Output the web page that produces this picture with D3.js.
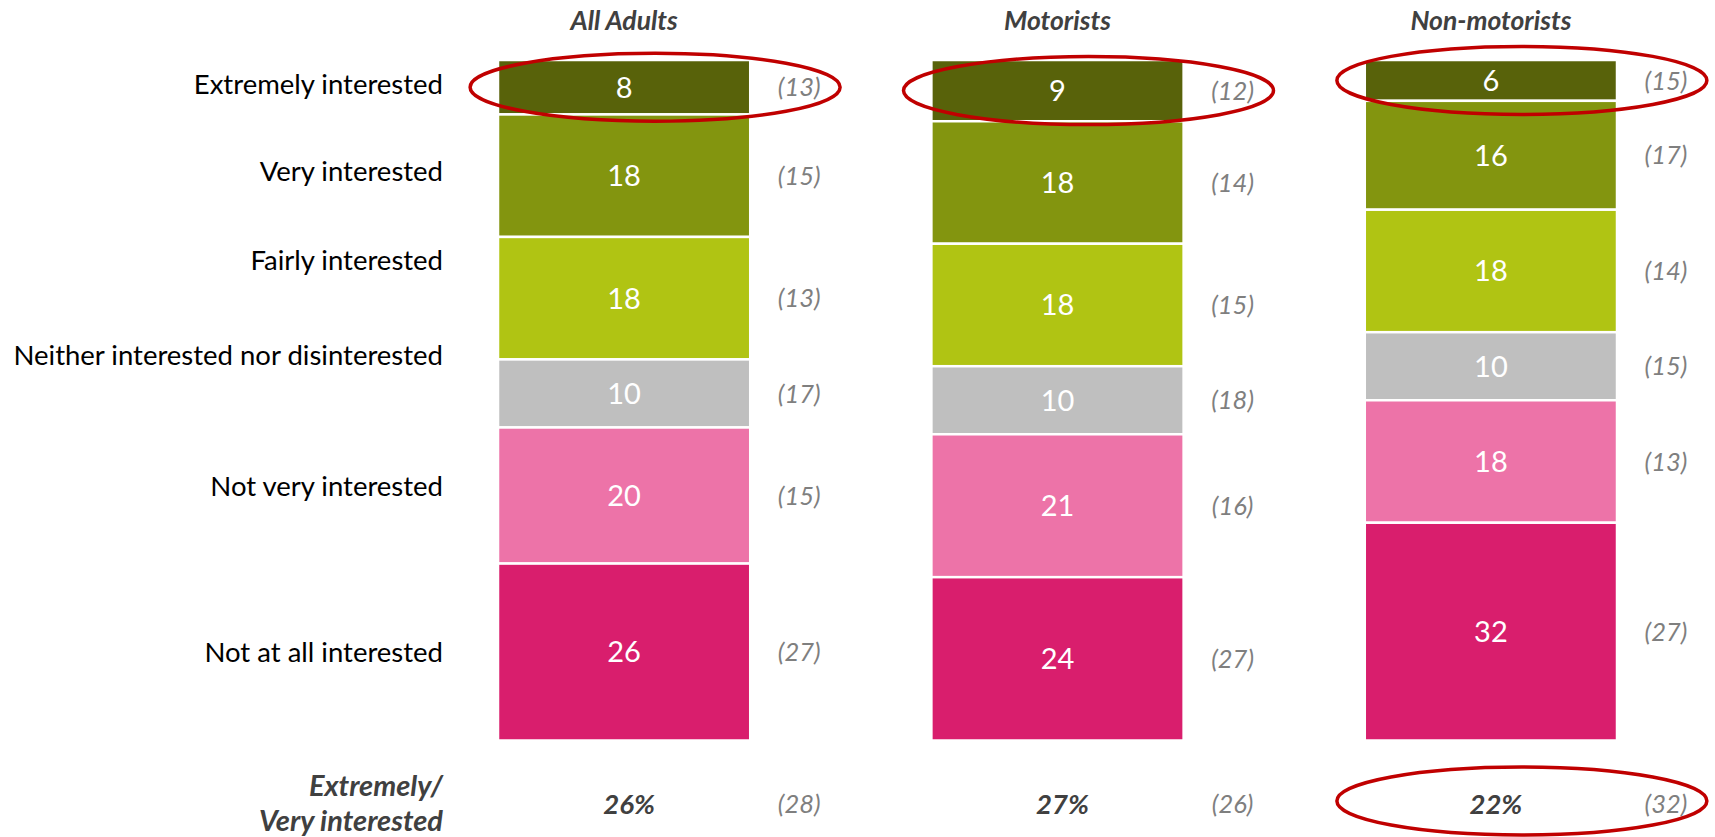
<!DOCTYPE html>
<html>
<head>
<meta charset="utf-8">
<script src="https://cdn.jsdelivr.net/npm/d3@7"></script>
<style>
  body { margin: 0; background: #fff; }
  svg text { font-family: Lato, "Open Sans", sans-serif; }
</style>
</head>
<body>
<div id="chart"></div>
<script>
// data
var categories = ['Extremely interested', 'Very interested', 'Fairly interested',
  'Neither interested nor disinterested', 'Not very interested', 'Not at all interested']
var groups = ['All Adults', 'Motorists', 'Non-motorists']
var allAdults = [8, 18, 18, 10, 20, 26]
var motorists = [9, 18, 18, 10, 21, 24]
var nonMotorists = [6, 16, 18, 10, 18, 32]
// previous wave, shown in brackets
var allAdultsPrev = [13, 15, 13, 17, 15, 27]
var motoristsPrev = [12, 14, 15, 18, 16, 27]
var nonMotoristsPrev = [15, 17, 14, 15, 13, 27]
var netLabel = ['Extremely/', 'Very interested']
var netValues = [26, 27, 22]
var netPrev = [28, 26, 32]
// which cells get the red ring
var ringTop = [true, true, true]
var ringNet = [false, false, true]

var colors = ['#58620a', '#83950f', '#b0c413', '#bfbfbf', '#ed73a8', '#d91e6d']
// label height for the left hand names, in value units
var labelAt = [3.6, 16.4, 29.4, 43.4, 62.7, 87.1]

var width = 1715, height = 837
var svg = d3.select('#chart').append('svg')
  .attr('width', width)
  .attr('height', height)

var x = d3.scaleBand()
  .domain(groups)
  .range([498, 1617])
  .paddingInner(0.418)
  .paddingOuter(0)

var y = d3.scaleLinear()
  .domain([0, 100])
  .range([60, 740.5])

var series = [allAdults, motorists, nonMotorists]
var seriesPrev = [allAdultsPrev, motoristsPrev, nonMotoristsPrev]

// stack each column
var cols = groups.map(function(g, gi) {
  var acc = 0
  return series[gi].map(function(v, i) {
    var seg = {group: g, gi: gi, i: i, v: v, prev: seriesPrev[gi][i], y0: acc, y1: acc + v}
    acc += v
    return seg
  })
})
var segs = d3.merge(cols)

// column titles
svg.selectAll('.title')
  .data(groups)
  .enter()
  .append('text')
  .attr('x', function(d) { return x(d) + x.bandwidth() / 2 })
  .attr('y', 20)
  .attr('dy', '0.36em')
  .attr('text-anchor', 'middle')
  .attr('fill', '#404040')
  .style('font-size', '26.5px')
  .style('font-weight', 'bold')
  .style('font-style', 'italic')
  .text(function(d) { return d })

// row names
svg.selectAll('.cat')
  .data(categories)
  .enter()
  .append('text')
  .attr('x', 443)
  .attr('y', function(d, i) { return y(labelAt[i]) })
  .attr('dy', '0.35em')
  .attr('text-anchor', 'end')
  .attr('fill', '#000')
  .style('font-size', '27.5px')
  .text(function(d) { return d })

// bars
svg.selectAll('.seg')
  .data(segs)
  .enter()
  .append('rect')
  .attr('x', function(d) { return x(d.group) })
  .attr('y', function(d) { return y(d.y0) })
  .attr('width', x.bandwidth())
  .attr('height', function(d) { return y(d.y1) - y(d.y0) })
  .attr('fill', function(d) { return colors[d.i] })
  .attr('stroke', '#fff')
  .attr('stroke-width', 2.5)

svg.selectAll('.val')
  .data(segs)
  .enter()
  .append('text')
  .attr('x', function(d) { return x(d.group) + x.bandwidth() / 2 })
  .attr('y', function(d) { return y((d.y0 + d.y1) / 2) })
  .attr('dy', '0.36em')
  .attr('text-anchor', 'middle')
  .attr('fill', '#fff')
  .style('font-size', '29px')
  .text(function(d) { return d.v })

svg.selectAll('.prev')
  .data(segs)
  .enter()
  .append('text')
  .attr('x', function(d) { return x(d.group) + x.bandwidth() + 49 })
  .attr('y', function(d) { return y((d.y0 + d.y1) / 2) })
  .attr('dy', '0.36em')
  .attr('text-anchor', 'middle')
  .attr('fill', '#7f7f7f')
  .style('font-size', '25.5px')
  .style('font-style', 'italic')
  .text(function(d) { return '(' + d.prev + ')' })

// net row at the bottom
var netY = 804
svg.selectAll('.netlab')
  .data(netLabel)
  .enter()
  .append('text')
  .attr('x', 443)
  .attr('y', function(d, i) { return netY - 18 + i * 35 })
  .attr('dy', '0.36em')
  .attr('text-anchor', 'end')
  .attr('fill', '#404040')
  .style('font-size', '29px')
  .style('font-weight', 'bold')
  .style('font-style', 'italic')
  .text(function(d) { return d })

svg.selectAll('.net')
  .data(netValues)
  .enter()
  .append('text')
  .attr('x', function(d, i) { return x(groups[i]) + x.bandwidth() / 2 + 5 })
  .attr('y', netY)
  .attr('dy', '0.36em')
  .attr('text-anchor', 'middle')
  .attr('fill', '#404040')
  .style('font-size', '27.5px')
  .style('font-weight', 'bold')
  .style('font-style', 'italic')
  .text(function(d) { return d + '%' })

svg.selectAll('.netprev')
  .data(netPrev)
  .enter()
  .append('text')
  .attr('x', function(d, i) { return x(groups[i]) + x.bandwidth() + 49 })
  .attr('y', netY)
  .attr('dy', '0.36em')
  .attr('text-anchor', 'middle')
  .attr('fill', '#7f7f7f')
  .style('font-size', '25.5px')
  .style('font-style', 'italic')
  .text(function(d) { return '(' + d + ')' })

// red rings
var rings = []
cols.forEach(function(c, gi) {
  if (ringTop[gi]) rings.push({gi: gi, cy: y((c[0].y0 + c[0].y1) / 2)})
  if (ringNet[gi]) rings.push({gi: gi, cy: netY - 3})
})
svg.selectAll('.ring')
  .data(rings)
  .enter()
  .append('ellipse')
  .attr('cx', function(d) { return x(groups[d.gi]) + x.bandwidth() / 2 + 31 })
  .attr('cy', function(d) { return d.cy })
  .attr('rx', 185)
  .attr('ry', 34)
  .attr('fill', 'none')
  .attr('stroke', '#c00000')
  .attr('stroke-width', 3.5)
</script>
</body>
</html>
